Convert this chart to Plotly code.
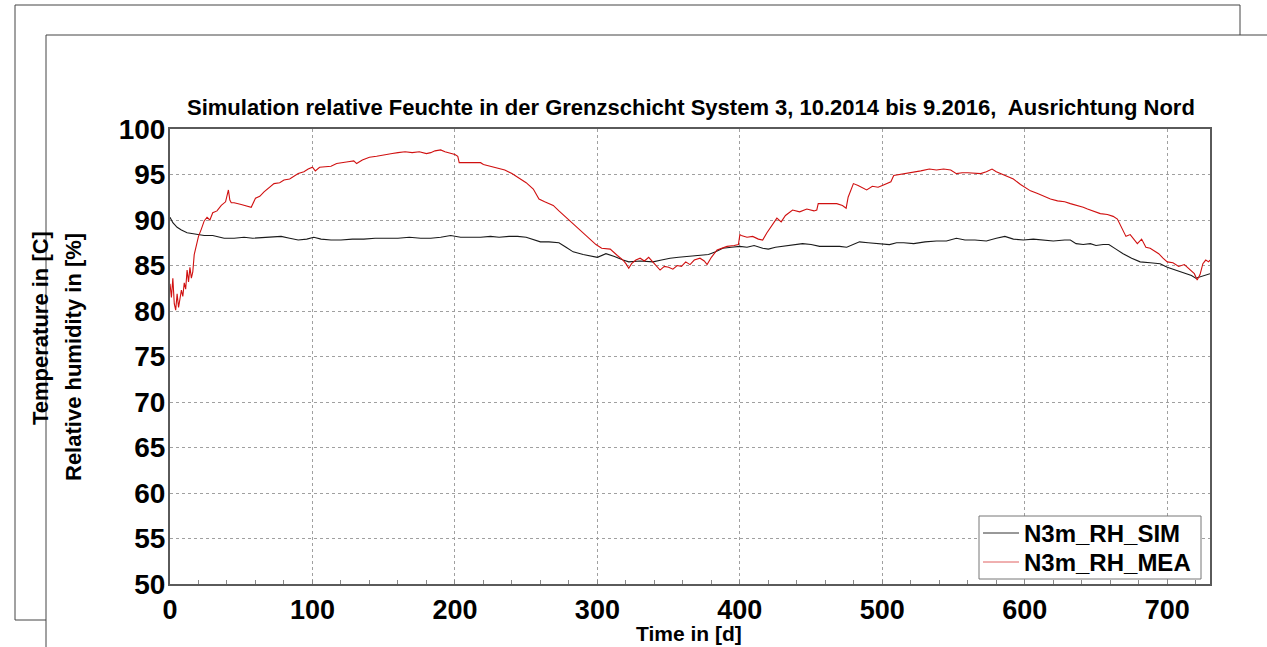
import plotly.graph_objects as go

# ---------------- data ----------------
mea_day = [0, 1, 2, 3, 4, 5, 6, 7, 8, 9, 10, 11, 12, 13, 14, 15, 16, 17, 18, 19, 20, 22, 24, 26, 28, 30,
           33, 36, 39, 41, 42, 43, 45, 50, 55, 57, 60, 63, 66, 70, 73, 77, 80, 84, 88, 90, 94, 97, 100, 102,
           105, 110, 113, 117, 120, 125, 129, 131, 135, 140, 145, 148, 152, 156, 160, 165, 170, 175, 180,
           183, 186, 190, 193, 196, 200, 202, 203, 206, 210, 215, 218, 220, 225, 230, 235, 240, 245, 250,
           255, 259, 263, 269, 273, 278, 283, 288, 293, 299, 303, 309, 314, 318, 320, 322, 324, 327, 330,
           333, 336, 339, 342, 344, 347, 350, 353, 356, 359, 362, 365, 368, 372, 375, 377, 380, 384, 388,
           391, 396, 399, 400, 401, 405, 409, 413, 416, 419, 423, 426, 429, 432, 437, 442, 447, 452, 454,
           455, 460, 465, 468, 472, 474.6, 476, 479.7, 483, 487, 489, 493, 497, 500, 503, 506, 508, 512,
           517, 522, 527, 533, 538, 543, 548, 552, 556, 560, 565, 569, 573, 577, 580, 583, 587, 592, 597,
           600, 604, 609, 614, 618, 623, 628, 632, 637, 641, 644, 648, 653, 658, 662, 665, 667, 669, 671,
           674, 677, 679, 682, 685, 688, 691, 694, 697, 700, 704, 708, 712, 716, 719, 721, 723, 725, 727,
           729, 730]
mea_rh = [83.0, 81.5, 83.6, 80.8, 80.1, 81.9, 80.4, 81.2, 82.3, 81.6, 83.1, 82.4, 84.5, 83.2, 84.8, 83.6,
          84.3, 86.2, 86.9, 87.6, 88.2, 89.0, 89.9, 90.3, 90.0, 90.8, 91.0, 91.6, 92.0, 93.3, 92.2, 91.9,
          91.9, 91.7, 91.5, 91.4, 92.4, 92.6, 93.1, 93.6, 94.0, 94.1, 94.4, 94.5, 94.9, 95.1, 95.3, 95.6,
          95.8, 95.4, 95.8, 95.9, 95.9, 96.2, 96.3, 96.4, 96.5, 96.2, 96.6, 96.9, 97.0, 97.1, 97.2, 97.3,
          97.4, 97.5, 97.4, 97.5, 97.3, 97.4, 97.6, 97.7, 97.5, 97.4, 97.2, 97.0, 96.3, 96.3, 96.3, 96.3,
          96.3, 96.1, 95.9, 95.7, 95.5, 95.1, 94.6, 94.1, 93.4, 92.3, 92.0, 91.6, 91.0, 90.3, 89.5, 88.9,
          88.2, 87.3, 86.9, 86.8, 86.1, 85.6, 85.2, 84.7, 85.2, 85.6, 85.8, 85.5, 85.9, 85.4, 84.9, 84.5,
          84.9, 84.8, 84.6, 85.0, 84.9, 85.4, 85.1, 85.6, 85.8, 85.5, 85.1, 85.9, 86.7, 86.9, 87.1, 87.2,
          87.3, 88.4, 88.3, 88.1, 88.2, 87.9, 87.8, 88.6, 89.5, 90.2, 89.8, 90.5, 91.1, 90.9, 91.2, 91.0,
          91.1, 91.8, 91.8, 91.8, 91.8, 91.6, 91.3, 92.5, 94.0, 93.8, 93.5, 93.3, 93.7, 93.6, 93.8, 94.0,
          94.2, 94.9, 95.0, 95.1, 95.2, 95.4, 95.6, 95.5, 95.6, 95.5, 95.1, 95.2, 95.2, 95.1, 95.1, 95.3,
          95.6, 95.3, 95.1, 94.8, 94.5, 93.9, 93.6, 93.2, 92.9, 92.6, 92.3, 92.1, 92.0, 91.8, 91.6, 91.4,
          91.2, 91.0, 90.7, 90.6, 90.4, 90.1, 89.5, 88.8, 88.2, 88.4, 87.8, 87.4, 87.9, 87.0, 86.9, 86.6,
          86.3, 85.8, 85.4, 85.3, 84.9, 85.1, 84.5, 84.1, 83.4, 84.0, 85.2, 85.6, 85.4, 85.6]

sim_day = [0, 2, 5, 8, 12, 16, 20, 24, 30, 38, 45, 52, 58, 66, 72, 78, 84, 90, 96, 101, 106, 113, 120,
           128, 136, 144, 152, 160, 168, 176, 183, 190, 197, 204, 211, 218, 225, 231, 238, 244, 250, 256,
           260, 266, 273, 278, 283, 290, 296, 300, 306, 312, 318, 322, 330, 339, 345, 351, 357, 363, 370,
           378, 383, 388, 394, 400, 405, 410, 416, 420, 425, 430, 437, 444, 450, 456, 462, 470, 475, 480,
           484, 490, 498, 505, 510, 515, 522, 530, 538, 545, 552, 558, 565, 573, 580, 586, 592, 599, 606,
           612, 620, 628, 632, 636, 641, 646, 650, 655, 659, 664, 669, 675, 681, 688, 695, 700, 706, 712,
           717, 720, 724, 727, 730]
sim_rh = [90.3, 89.7, 89.2, 88.9, 88.6, 88.5, 88.4, 88.3, 88.3, 88.0, 88.0, 88.1, 88.0, 88.1, 88.2, 88.2,
          88.0, 87.8, 87.9, 88.1, 87.9, 87.8, 87.8, 87.9, 87.9, 88.0, 88.0, 88.0, 88.1, 88.0, 88.0, 88.1,
          88.3, 88.1, 88.1, 88.1, 88.2, 88.1, 88.2, 88.2, 88.1, 87.8, 87.6, 87.6, 87.5, 87.0, 86.5, 86.2,
          86.0, 85.9, 86.3, 86.0, 85.6, 85.4, 85.5, 85.4, 85.6, 85.8, 85.9, 86.0, 86.1, 86.2, 86.5, 86.9,
          87.0, 87.1, 87.0, 87.2, 86.9, 86.8, 87.0, 87.1, 87.2, 87.4, 87.3, 87.1, 87.1, 87.1, 87.0, 87.3,
          87.6, 87.5, 87.4, 87.3, 87.5, 87.5, 87.4, 87.6, 87.7, 87.7, 88.0, 87.8, 87.8, 87.7, 88.0, 88.2,
          87.9, 87.8, 87.9, 87.8, 87.7, 87.8, 87.8, 87.4, 87.3, 87.4, 87.2, 87.3, 87.3, 86.8, 86.3, 85.8,
          85.4, 85.3, 85.2, 84.8, 84.5, 84.2, 83.9, 83.6, 83.8, 84.0, 84.1]

series_names = ["N3m_RH_SIM", "N3m_RH_MEA"]
series_colors = ["#1a1a1a", "#d01010"]
legend_sample_colors = ["#333333", "#e06060"]
x_ticks = [0, 100, 200, 300, 400, 500, 600, 700]
y_ticks = [50, 55, 60, 65, 70, 75, 80, 85, 90, 95, 100]

title_text = "Simulation relative Feuchte in der Grenzschicht System 3, 10.2014 bis 9.2016,  Ausrichtung Nord"
x_title = "Time in [d]"
y_title = "Relative humidity in [%]"
back_y_title = "Temperature in [C]"

# ---------------- layout geometry (pixels) ----------------
W, H = 1267, 647
L, R, T, B = 170, 1210, 129, 584
PW, PH = R - L, B - T


def xp(px):
    return (px - L) / PW


def yp(py):
    return (B - py) / PH


FONT = "Liberation Sans, Arial, sans-serif"

fig = go.Figure()
fig.add_trace(go.Scatter(x=sim_day, y=sim_rh, mode="lines", name=series_names[0],
                         line=dict(color=series_colors[0], width=1.1), showlegend=False))
fig.add_trace(go.Scatter(x=mea_day, y=mea_rh, mode="lines", name=series_names[1],
                         line=dict(color=series_colors[1], width=1.1), showlegend=False))

axis_common = dict(showline=True, mirror=True, linecolor="#5a5a5a", linewidth=2,
                   showgrid=True, gridcolor="#a0a0a0", griddash="dot", gridwidth=1,
                   zeroline=False)

fig.update_xaxes(range=[0, 730], tickvals=x_ticks, ticks="inside", ticklen=4, tickcolor="#888",
                 minor=dict(dtick=20, tick0=0, ticks="inside", ticklen=4, tickcolor="#888", showgrid=False),
                 tickfont=dict(family=FONT, size=27, color="#000", weight="bold"),
                 ticklabelstandoff=1, **axis_common)
fig.update_yaxes(range=[50, 100], tickvals=y_ticks, ticks="",
                 tickfont=dict(family=FONT, size=28, color="#000", weight="bold"),
                 ticklabelstandoff=-3, **axis_common)

shapes = [
    dict(type="rect", xref="paper", yref="paper", x0=xp(15), x1=xp(1240), y0=yp(620), y1=yp(5),
         line=dict(color="#444", width=1), fillcolor="white", layer="below"),
    dict(type="rect", xref="paper", yref="paper", x0=xp(46), x1=xp(1290), y0=yp(670), y1=yp(35),
         line=dict(color="#444", width=1), fillcolor="white", layer="below"),
    # legend box
    dict(type="rect", xref="paper", yref="paper", x0=xp(979), x1=xp(1201), y0=yp(579), y1=yp(516),
         line=dict(color="#777", width=1), fillcolor="white", layer="above"),
]

legend_rows = [533, 562]
for color, row in zip(legend_sample_colors, legend_rows):
    shapes.append(dict(type="line", xref="paper", yref="paper", x0=xp(983), x1=xp(1019),
                       y0=yp(row), y1=yp(row), line=dict(color=color, width=1), layer="above"))

bold = dict(family=FONT, color="#000", weight="bold")
annotations = [
    dict(text=title_text, xref="paper", yref="paper", x=xp(691), y=yp(108), showarrow=False,
         xanchor="center", yanchor="middle", font=dict(size=22, **bold)),
    dict(text=x_title, xref="paper", yref="paper", x=xp(689), y=yp(633), showarrow=False,
         xanchor="center", yanchor="middle", font=dict(size=21, **bold)),
    dict(text=y_title, xref="paper", yref="paper", x=xp(73), y=yp(357), showarrow=False, textangle=-90,
         xanchor="center", yanchor="middle", font=dict(size=22, **bold)),
    dict(text=back_y_title, xref="paper", yref="paper", x=xp(40), y=yp(328), showarrow=False, textangle=-90,
         xanchor="center", yanchor="middle", font=dict(size=22, **bold)),
]
for name, row in zip(series_names, legend_rows):
    annotations.append(dict(text=name, xref="paper", yref="paper", x=xp(1022), y=yp(row),
                            showarrow=False, xanchor="left", yanchor="middle",
                            font=dict(size=24, **bold)))

fig.update_layout(
    width=W, height=H,
    margin=dict(l=L, r=W - R, t=T, b=H - B, pad=0),
    paper_bgcolor="white", plot_bgcolor="rgba(0,0,0,0)",
    shapes=shapes, annotations=annotations,
    showlegend=False,
)

fig.write_html("out.html")
